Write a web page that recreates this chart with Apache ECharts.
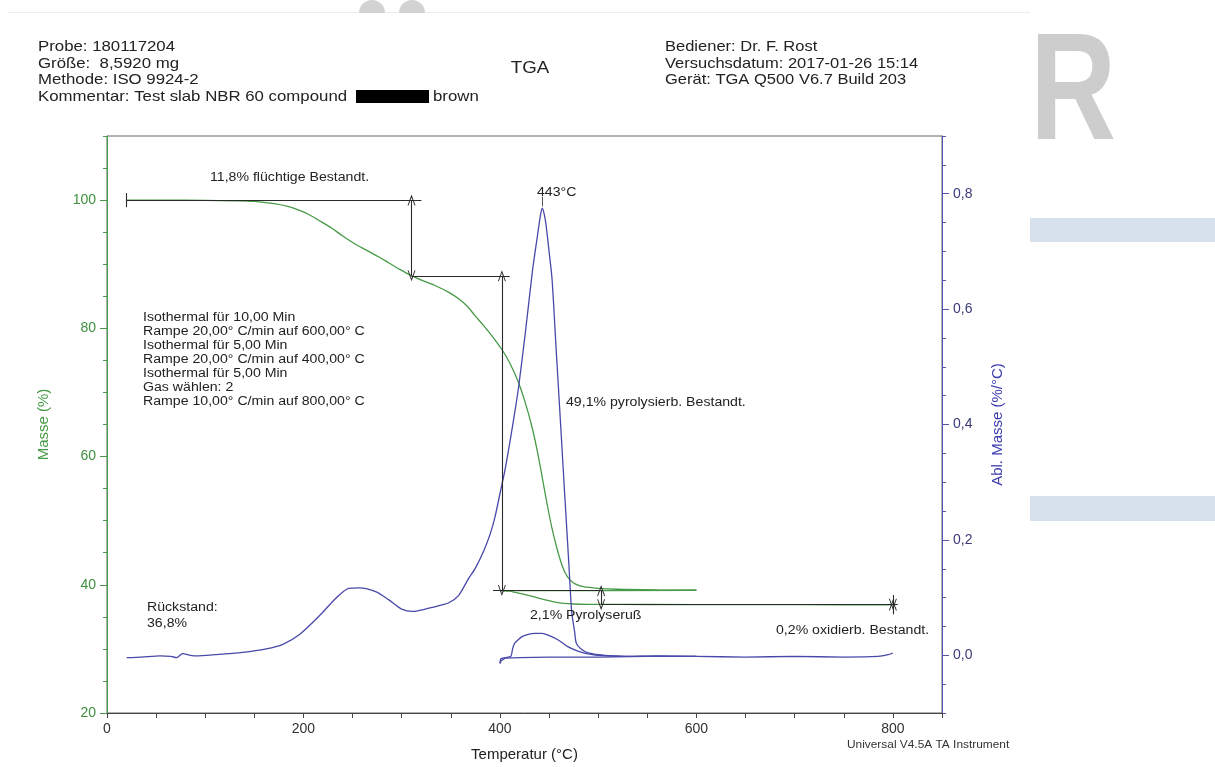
<!DOCTYPE html>
<html>
<head>
<meta charset="utf-8">
<script src="https://cdn.jsdelivr.net/npm/echarts@6/dist/echarts.min.js"></script>
<style>
html,body{margin:0;padding:0;background:#fff;}
#chart{width:1215px;height:767px;}
</style>
</head>
<body>
<div id="chart"></div>
<script>
// ---------- DATA ----------
// Mass (%) vs temperature (°C): ramp to 600 °C
const massRamp1 = [[20,100],[60,100],[100,99.95],[130,99.9],[150,99.8],[170,99.45],[185,99.0],[196,98.4],[205,97.8],[215,96.9],[229,95.6],[240,94.4],[252,93.2],[264,92.2],[276,91.2],[287,90.2],[298,89.2],[310,88.2],[322,87.4],[335,86.6],[348,85.6],[358,84.6],[367,83.4],[375,81.9],[383,80.5],[392,78.8],[402,76.7],[410,74.6],[418,71.9],[425,68.8],[432,65.0],[438,60.9],[443,56.8],[448,52.6],[453,48.8],[458,45.7],[462,43.6],[466,42.0],[471,40.8],[477,40.1],[485,39.7],[500,39.45],[520,39.3],[560,39.2],[600,39.15]];
// cooling 600 -> 400 °C
const massCool = [[600,39.15],[500,39.1],[400,39.1]];
// ramp 400 -> 800 °C (air)
const massRamp2 = [[400,39.1],[410,39.0],[416,38.8],[425,38.5],[435,38.1],[445,37.7],[455,37.35],[465,37.1],[475,37.0],[490,36.95],[550,36.92],[650,36.9],[750,36.88],[800,36.85]];

// Derivative mass (%/°C)
const derivRamp1 = [[20,-0.004],[35,-0.003],[54,-0.001],[65,-0.002],[71,-0.004],[77,0.003],[85,0.0],[91,-0.001],[110,0.001],[138,0.005],[162,0.011],[179,0.019],[196,0.036],[216,0.068],[233,0.099],[246,0.116],[257,0.117],[274,0.110],[287,0.096],[300,0.080],[311,0.076],[324,0.080],[338,0.086],[348,0.091],[358,0.104],[368,0.133],[375,0.151],[384,0.183],[390,0.210],[395,0.240],[400,0.280],[405,0.320],[410,0.368],[415,0.420],[419,0.465],[426,0.561],[433,0.665],[438,0.725],[441,0.760],[443,0.775],[445,0.765],[447,0.745],[450,0.700],[453,0.653],[457,0.537],[462,0.393],[466,0.277],[470,0.163],[473,0.076],[476,0.041],[478,0.020],[486,0.007],[496,0.002],[507,0.0],[530,-0.002],[560,-0.001],[600,-0.002]];
const derivCool = [[600,-0.002],[550,-0.002],[500,-0.003],[450,-0.003],[420,-0.004],[405,-0.005],[401,-0.010],[400,-0.014]];
const derivRamp2 = [[400,-0.014],[401,-0.006],[405,-0.004],[411,-0.002],[412,0.003],[413,0.012],[415,0.021],[418,0.026],[422,0.032],[428,0.036],[436,0.038],[443,0.038],[449,0.035],[459,0.027],[469,0.015],[480,0.007],[494,0.001],[510,-0.001],[550,-0.002],[600,-0.002],[650,-0.003],[700,-0.002],[750,-0.003],[785,-0.002],[795,0.001],[800,0.004]];

// Step analysis annotations: [fromT, toT, mass level]
const stepLines = [[20,320,100],[310,410,88.2],[393,503,39.1],[503,805,36.9]];
// double arrows: [T, upper mass, lower mass]
const stepArrows = [[310,100,88.2],[402,88.2,39.1],[503,39.1,36.9]];
// start tick at T=20: [T, top, bottom]
const startTick = [20,101.1,98.9];
// inward arrows at end: [T, level, upper start, lower start]
const endMark = [800,36.9,38.4,35.4];
const peakT = 443, peakVal = 0.778, peakTickTop = 0.795;

// Tick labels
const xLabels = [0,200,400,600,800];
const yLeftLabels = [20,40,60,80,100];
const yRightLabels = [0,0.2,0.4,0.6,0.8];

// Texts
const headerLeft = ['Probe: 180117204','Größe:  8,5920 mg','Methode: ISO 9924-2','Kommentar: Test slab NBR 60 compound'];
const headerRight = ['Bediener: Dr. F. Rost','Versuchsdatum: 2017-01-26 15:14','Gerät: TGA Q500 V6.7 Build 203'];
const methodLines = ['Isothermal für 10,00 Min','Rampe 20,00° C/min auf 600,00° C','Isothermal für 5,00 Min','Rampe 20,00° C/min auf 400,00° C','Isothermal für 5,00 Min','Gas wählen: 2','Rampe 10,00° C/min auf 800,00° C'];

// ---------- STYLE ----------
const GREEN = '#479a47';
const GREEN_TXT = '#3f8f3f';
const BLUE = '#4848aa';
const BLUE_AX = '#5555b0';
const BLACK = '#2a2a2a';
const FONT = '"Liberation Sans", Arial, sans-serif';
const SX = 1.13;
const ARROW = 'path://M0,10 L5,0 L10,10 L8.8,10 L5,2.6 L1.2,10 Z';
const ASIZE = [8,11];

const chart = echarts.init(document.getElementById('chart'), null, {renderer:'canvas'});

const mlData = [];
stepLines.forEach(s => mlData.push([{coord:[s[0],s[2]],symbol:'none'},{coord:[s[1],s[2]],symbol:'none'}]));
stepArrows.forEach(a => mlData.push([{coord:[a[0],a[1]],symbol:ARROW,symbolSize:ASIZE},{coord:[a[0],a[2]],symbol:ARROW,symbolSize:ASIZE}]));
mlData.push([{coord:[startTick[0],startTick[1]],symbol:'none'},{coord:[startTick[0],startTick[2]],symbol:'none'}]);
mlData.push([{coord:[endMark[0],endMark[2]],symbol:'none'},{coord:[endMark[0],endMark[1]+0.05],symbol:ARROW,symbolSize:ASIZE}]);
mlData.push([{coord:[endMark[0],endMark[3]],symbol:'none'},{coord:[endMark[0],endMark[1]-0.05],symbol:ARROW,symbolSize:ASIZE}]);

function txt(x, y, text, opt) {
  opt = opt || {};
  return {
    type:'text', x:x, y:y, scaleX: opt.sx == null ? SX : opt.sx, z:50, silent:true,
    style:{text:text, x:0, y:0, fill: opt.fill || '#222',
      font: (opt.weight || 'normal') + ' ' + (opt.size || 12.5) + 'px ' + FONT,
      align: opt.align || 'left', verticalAlign:'middle'}
  };
}

const graphics = [];
// screenshot decorations
graphics.push({type:'line', silent:true, shape:{x1:8,y1:12.5,x2:1030,y2:12.5}, style:{stroke:'#ececec', lineWidth:1}});
graphics.push({type:'sector', silent:true, shape:{cx:372,cy:13,r:13,startAngle:Math.PI,endAngle:2*Math.PI}, style:{fill:'#d2d2d2'}});
graphics.push({type:'sector', silent:true, shape:{cx:412,cy:13,r:13,startAngle:Math.PI,endAngle:2*Math.PI}, style:{fill:'#d2d2d2'}});
graphics.push({type:'text', silent:true, x:1030, y:97.5, scaleX:0.785, style:{text:'R', x:0, y:0, fill:'#cdcdcd', font:'bold 152px ' + FONT, verticalAlign:'middle'}});
graphics.push({type:'rect', silent:true, shape:{x:1030,y:218,width:185,height:24}, style:{fill:'#d6e1ec'}});
graphics.push({type:'rect', silent:true, shape:{x:1030,y:496,width:185,height:25}, style:{fill:'#d6e1ec'}});
// header
headerLeft.forEach((t,i) => graphics.push(txt(38, 47 + i*16.5, t, {size:15, sx:1.12})));
graphics.push({type:'rect', silent:true, z:50, shape:{x:356,y:90,width:73,height:13}, style:{fill:'#000'}});
graphics.push(txt(433, 96.5, 'brown', {size:15, sx:1.12}));
headerRight.forEach((t,i) => graphics.push(txt(665, 47 + i*16.5, t, {size:15, sx:1.1})));
graphics.push(txt(530, 68, 'TGA', {size:17, sx:1.1, align:'center'}));
// in-plot annotations
graphics.push(txt(210, 178, '11,8% flüchtige Bestandt.'));
graphics.push(txt(537, 193, '443°C'));
methodLines.forEach((t,i) => graphics.push(txt(143, 318 + i*14, t)));
graphics.push(txt(566, 403, '49,1% pyrolysierb. Bestandt.'));
graphics.push(txt(147, 608, 'Rückstand:'));
graphics.push(txt(147, 624, '36,8%'));
graphics.push(txt(530, 616, '2,1% Pyrolyseruß'));
graphics.push(txt(776, 631, '0,2% oxidierb. Bestandt.'));
graphics.push(txt(847, 745, 'Universal V4.5A TA Instrument', {size:11, sx:1.08, fill:'#333'}));

const option = {
  animation:false,
  backgroundColor:'#ffffff',
  textStyle:{fontFamily:FONT},
  grid:{left:107, right:273, top:136, bottom:51, show:true, borderColor:'#666', borderWidth:1, backgroundColor:'transparent'},
  xAxis:[{
    type:'value', min:0, max:850, interval:50, position:'bottom',
    axisLine:{onZero:false, lineStyle:{color:'#444', width:1}},
    axisTick:{show:true, inside:false, length:5, lineStyle:{color:'#444'}},
    axisLabel:{fontSize:14, color:'#333', margin:9, fontFamily:FONT,
      formatter: v => xLabels.indexOf(v) >= 0 ? String(v) : ''},
    splitLine:{show:false},
    name:'Temperatur (°C)', nameLocation:'middle', nameGap:34,
    nameTextStyle:{fontSize:15, color:'#222', fontFamily:FONT}
  }],
  yAxis:[{
    type:'value', min:20, max:110, interval:5, position:'left',
    axisLine:{show:true, onZero:false, lineStyle:{color:GREEN, width:1}},
    axisTick:{show:true, length:4, lineStyle:{color:GREEN}},
    axisLabel:{fontSize:14, color:GREEN_TXT, margin:11, fontFamily:FONT,
      formatter: v => yLeftLabels.indexOf(v) >= 0 ? String(v) : ''},
    splitLine:{show:false},
    name:'Masse (%)', nameLocation:'middle', nameGap:56,
    nameTextStyle:{fontSize:15, color:GREEN, fontFamily:FONT}
  },{
    type:'value', min:-0.1, max:0.9, interval:0.05, position:'right',
    axisLine:{show:true, onZero:false, lineStyle:{color:BLUE_AX, width:1}},
    axisTick:{show:true, length:4, lineStyle:{color:BLUE_AX}},
    axisLabel:{fontSize:14, color:'#3a3a78', margin:11, fontFamily:FONT,
      formatter: v => {
        const k = Math.round(v*100);
        return yRightLabels.some(r => Math.round(r*100) === k) ? (k/100).toFixed(1).replace('.', ',') : '';
      }},
    splitLine:{show:false},
    name:'Abl. Masse (%/°C)', nameLocation:'middle', nameGap:48,
    nameTextStyle:{fontSize:15, color:'#3c3cb0', fontFamily:FONT}
  },{
    type:'value', min:20, max:110, position:'left',
    axisLine:{show:false, onZero:false}, axisLabel:{show:false}, splitLine:{show:false},
    axisTick:{show:true, length:7, lineStyle:{color:GREEN}, customValues: yLeftLabels}
  },{
    type:'value', min:-0.1, max:0.9, position:'right',
    axisLine:{show:false, onZero:false}, axisLabel:{show:false}, splitLine:{show:false},
    axisTick:{show:true, length:7, lineStyle:{color:BLUE_AX}, customValues: yRightLabels}
  }],
  graphic: graphics,
  series:[
    {type:'line', yAxisIndex:0, data:massRamp1, showSymbol:false, smooth:0.3, silent:true, lineStyle:{color:GREEN, width:1.3}, z:3},
    {type:'line', yAxisIndex:0, data:massCool, showSymbol:false, silent:true, lineStyle:{color:GREEN, width:1.3}, z:3},
    {type:'line', yAxisIndex:0, data:massRamp2, showSymbol:false, smooth:0.3, silent:true, lineStyle:{color:GREEN, width:1.3}, z:3},
    {type:'line', yAxisIndex:1, data:derivRamp1, showSymbol:false, smooth:0.25, silent:true, lineStyle:{color:BLUE, width:1.3}, z:4,
      markLine:{silent:true, animation:false, symbol:['none','none'], label:{show:false}, lineStyle:{color:'#555', width:1, type:'solid'},
        data:[[{coord:[peakT,peakVal]},{coord:[peakT,peakTickTop]}]]}},
    {type:'line', yAxisIndex:1, data:derivCool, showSymbol:false, silent:true, lineStyle:{color:BLUE, width:1.3}, z:4},
    {type:'line', yAxisIndex:1, data:derivRamp2, showSymbol:false, smooth:0.25, silent:true, lineStyle:{color:BLUE, width:1.3}, z:4},
    {type:'line', yAxisIndex:0, data:[], silent:true, z:5,
      markLine:{silent:true, animation:false, symbol:['none','none'], label:{show:false},
        lineStyle:{color:BLACK, width:1.1, type:'solid'}, emphasis:{disabled:true}, data:mlData}}
  ]
};
chart.setOption(option);
</script>
</body>
</html>
